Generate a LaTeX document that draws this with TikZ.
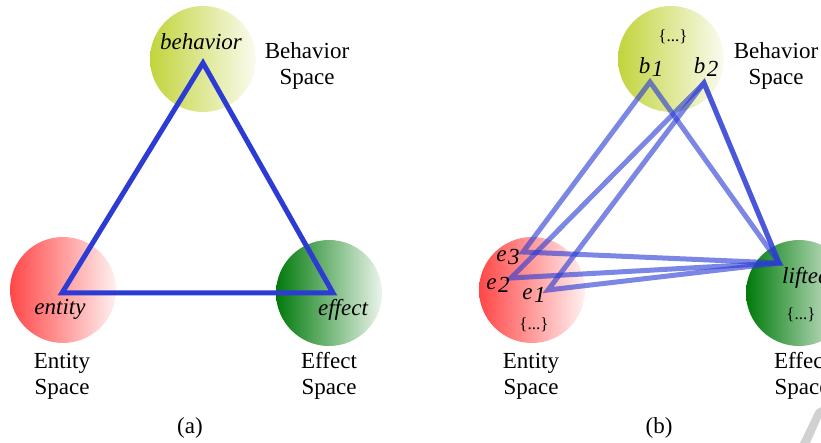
\documentclass[tikz,border=0pt]{standalone}
\usepackage{fontspec}
\setmainfont{Liberation Serif}
\usepackage{tikz}
\usetikzlibrary{calc, positioning}

\definecolor{behcol}{HTML}{C2D43C}
\definecolor{entcol}{HTML}{FF4747}
\definecolor{effcol}{HTML}{007A0A}
\definecolor{tricol}{HTML}{2B3BD4}

\begin{document}
\begin{tikzpicture}[x=1pt, y=-1pt,
  space/.style={circle, minimum size=106pt, inner sep=0pt, shading=axis},
  lbl/.style={font=\fontsize{23}{26}\selectfont, align=center, inner sep=0pt},
  ital/.style={font=\fontsize{23}{26}\selectfont\itshape, inner sep=0pt},
  dots/.style={font=\fontsize{17}{19}\selectfont, inner sep=0pt},
  tri/.style={draw=tricol, line width=5pt},
  ghost/.style={draw=tricol, draw opacity=0.62, line width=5pt}]

\useasboundingbox (0,0) rectangle (821,443);

% ----- (a) -----
% spazi
\node[space, left color=behcol, right color=behcol!8] (beh) at (203,59) {};
\node[space, left color=entcol, right color=entcol!8] (ent) at (63,290) {};
\node[space, left color=effcol, right color=effcol!8] (eff) at (329,293) {};

% vertici
\coordinate (tb) at (203,63);
\coordinate (tl) at (62,293);
\coordinate (tr) at (333,293);
\draw[tri] (tb) -- (tl) -- (tr) -- cycle; % triangolo

\node[ital] (behtxt) at (201,42) {behavior};
\node[ital] (enttxt) at (60,309) {entity};
\node[ital] (efftxt) at (343,310) {effect};

\node[lbl] (behname) at (307,66) {Behavior\\Space};
\node[lbl] (entname) at (62,376) {Entity\\Space};
\node[lbl] (effname) at (329,376) {Effect\\Space};
\node[lbl] (capa) at (190,428) {(a)};

% ----- (b) -----
\node[space, left color=behcol, right color=behcol!8] (behb) at (671,59) {};
\node[space, left color=entcol, right color=entcol!8] (entb) at (532,290) {};
\node[space, left color=effcol, right color=effcol!8] (effb) at (799,293) {};

% punti
\coordinate (b1) at (650,82);
\coordinate (b2) at (704,83);
\coordinate (e1) at (548,290);
\coordinate (e2) at (511,278);
\coordinate (e3) at (523,252);
\coordinate (lf) at (779,263);

% triangoli sovrapposti
\draw[ghost] (b1) -- (e3) -- (lf) -- cycle;
\draw[ghost] (b2) -- (e2) -- (lf) -- cycle;
\draw[ghost] (b2) -- (e1) -- (lf) -- cycle;

\node[dots] (bset) at (673,37) {\{...\}};
\node[ital] (b1txt) at (651,67) {b\kern1.5pt\raisebox{-3pt}{1}};
\node[ital] (b2txt) at (706,67) {b\kern1.5pt\raisebox{-3pt}{2}};
\node[ital] (e3txt) at (508,257) {e\kern1.5pt\raisebox{-3pt}{3}};
\node[ital] (e2txt) at (498,285) {e\kern1.5pt\raisebox{-3pt}{2}};
\node[ital] (e1txt) at (534,295) {e\kern1.5pt\raisebox{-3pt}{1}};
\node[dots] (eset) at (534,325) {\{...\}};
\node[ital, anchor=west] (lftxt) at (782,278) {lifted};
\node[dots] (fset) at (801,315) {\{...\}};

\node[lbl] (behnameb) at (776,66) {Behavior\\Space};
\node[lbl] (entnameb) at (531,376) {Entity\\Space};
\node[lbl] (effnameb) at (802,376) {Effect\\Space};
\node[lbl] (capb) at (659,428) {(b)};

% segno grigio in basso
\fill[black!18] (800,443) -- (816,410) -- (821,407) -- (821,418) -- (810,443) -- cycle;

\end{tikzpicture}
\end{document}
